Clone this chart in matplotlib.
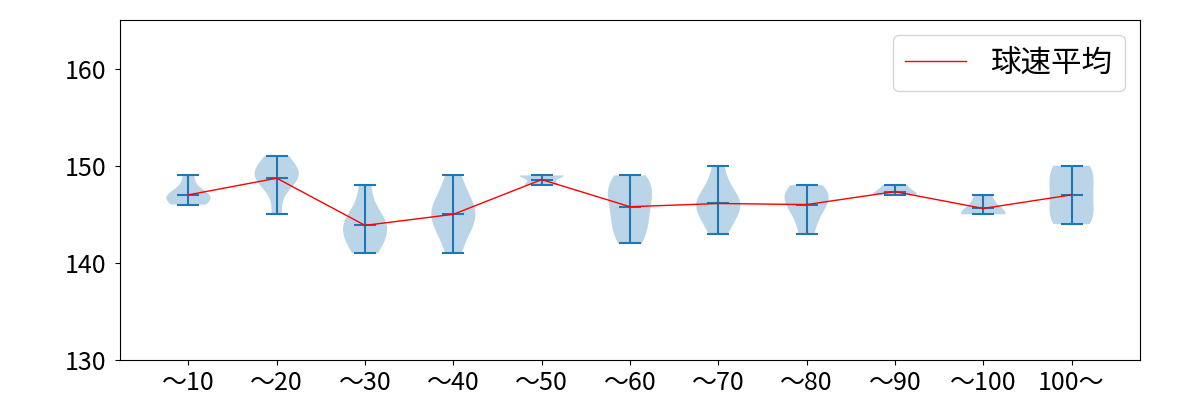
import numpy as np
import matplotlib
matplotlib.use("Agg")
import matplotlib.pyplot as plt

plt.rcParams['font.family'] = ['Noto Sans CJK JP', 'DejaVu Sans']

labels = ['〜10', '〜20', '〜30', '〜40', '〜50', '〜60', '〜70', '〜80', '〜90', '〜100', '100〜']

# speed samples per pitch-count bin (km/h)
s10 = [146, 146, 147, 147, 147, 149]
s20 = [145, 148, 149, 149, 149, 150, 151]
s30 = [141, 142, 143, 144, 144, 145, 148]
s40 = [141, 143, 144, 145, 145, 146, 147, 149]
s50 = [148, 148, 148, 149, 149, 149, 149]
s60 = [142, 143, 144, 145, 146, 147, 148, 148, 149]
s70 = [143, 144, 145, 146, 146, 146, 147, 148, 150]
s80 = [143, 145, 146, 147, 147, 148]
s90 = [147, 147, 148]
s100 = [145, 145, 145, 146, 147]
s101 = [144, 144, 145, 146, 147, 148, 149, 150, 150]

data = [s10, s20, s30, s40, s50, s60, s70, s80, s90, s100, s101]
means = [np.mean(d) for d in data]
pos = np.arange(1, len(data) + 1)

fig = plt.figure(figsize=(12, 4), dpi=100)
ax = fig.add_axes([0.1, 0.1, 0.85, 0.85])

ax.violinplot(data, positions=pos, showmeans=True)
ax.plot(pos, means, color='red', linewidth=1, label='球速平均')

ax.set_ylim(130, 165)
ax.set_yticks([130, 140, 150, 160])
ax.set_xticks(pos)
ax.set_xticklabels(labels)
ax.tick_params(labelsize=18)
ax.tick_params(axis='y', pad=6)
ax.legend(loc='upper right', fontsize=22)

fig.savefig('out.png')
